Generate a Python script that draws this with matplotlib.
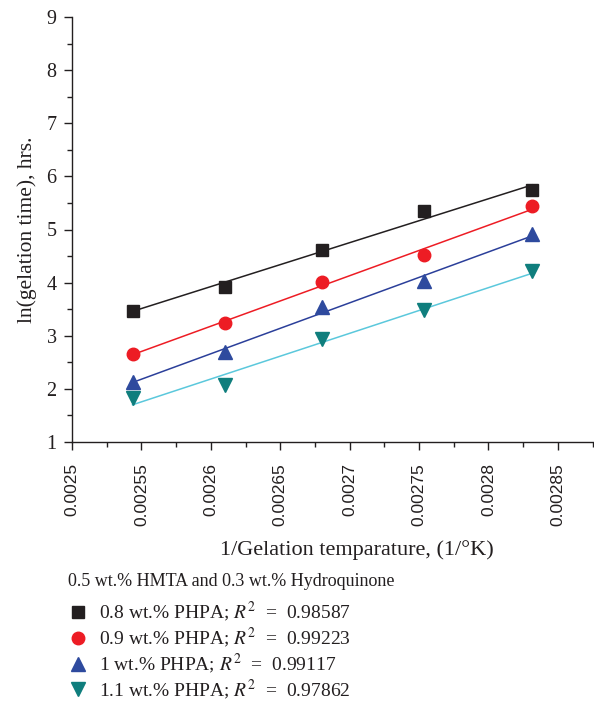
import numpy as np
import matplotlib
matplotlib.use("Agg")
import matplotlib.pyplot as plt
from matplotlib.lines import Line2D
from matplotlib.ticker import MultipleLocator

plt.rcParams['font.family'] = ['Liberation Serif', 'DejaVu Serif']
plt.rcParams['mathtext.fontset'] = 'stix'

inv_temp = [0.0025436, 0.0026100, 0.0026799, 0.0027537, 0.0028317]
series_labels = [
    "0.8 wt.% PHPA; $R^2$  =  0.98587",
    "0.9 wt.% PHPA; $R^2$  =  0.99223",
    "1 wt.% PHPA; $R^2$  =  0.99117",
    "1.1 wt.% PHPA; $R^2$  =  0.97862",
]
ln_gel_08 = [3.47, 3.92, 4.62, 5.34, 5.74]
ln_gel_09 = [2.66, 3.24, 4.02, 4.52, 5.44]
ln_gel_10 = [2.13, 2.70, 3.54, 4.04, 4.91]
ln_gel_11 = [1.83, 2.07, 2.93, 3.49, 4.21]
legend_title = "0.5 wt.% HMTA and 0.3 wt.% Hydroquinone"

series = [ln_gel_08, ln_gel_09, ln_gel_10, ln_gel_11]
markers = ['s', 'o', '^', 'v']
mcolors = ['#231f20', '#ed1c24', '#2e4a9e', '#0f7e7d']
lcolors = ['#231f20', '#ed1c24', '#2b3f9a', '#5bc8dc']
msizes = [8, 9, 10, 10]

fig = plt.figure(figsize=(5.94, 7.03), dpi=100)
ax = fig.add_axes([72/594, 1-442/703, 1-72/594, (442-17)/703])

x = np.array(inv_temp)
handles = []
for ys, m, mc, lc, ms, lab in zip(series, markers, mcolors, lcolors, msizes, series_labels):
    y = np.array(ys)
    k, b = np.polyfit(x, y, 1)
    xx = np.array([x.min(), x.max()])
    ax.plot(xx, k*xx + b, color=lc, lw=1.1, zorder=2)
    ax.plot(x, y, linestyle='none', marker=m, color=mc, markersize=ms, zorder=3)
    handles.append(Line2D([], [], linestyle='none', marker=m, color=mc, markersize=ms, label=lab))

ax.set_xlim(0.0025, 0.002876)
ax.set_ylim(1, 9)
ax.xaxis.set_major_locator(MultipleLocator(0.00005))
ax.xaxis.set_minor_locator(MultipleLocator(0.000025))
ax.yaxis.set_major_locator(MultipleLocator(1))
ax.yaxis.set_minor_locator(MultipleLocator(0.5))
ax.spines['top'].set_visible(False)
ax.spines['right'].set_visible(False)
for s in ['left', 'bottom']:
    ax.spines[s].set_color('#231f20')
    ax.spines[s].set_linewidth(1.0)
ax.tick_params(which='major', direction='out', length=6, width=1, color='#231f20')
ax.tick_params(which='minor', direction='out', length=3.5, width=1, color='#231f20')
ax.tick_params(axis='y', labelsize=14.5, labelcolor='#231f20', pad=5)
ax.tick_params(axis='x', labelsize=12.5, labelcolor='#231f20', pad=9)

xt = [0.0025, 0.00255, 0.0026, 0.00265, 0.0027, 0.00275, 0.0028, 0.00285]
xtl = ["0.0025", "0.00255", "0.0026", "0.00265", "0.0027", "0.00275", "0.0028", "0.00285"]
ax.set_xticks(xt)
ax.set_xticklabels(xtl, rotation=90, family=['Liberation Sans', 'DejaVu Sans'])
ax.set_yticks(range(1, 10))

ax.set_ylabel("ln(gelation time), hrs.", fontsize=15.5, color='#231f20', labelpad=7)
fig.text(357/594, 1-550/703, "1/Gelation temparature, (1/°K)", fontsize=16,
         ha='center', va='center', color='#231f20')

fig.text(68/594, 1-581/703, legend_title, fontsize=13, ha='left', va='center',
         color='#231f20')
leg = fig.legend(handles=handles, loc='upper left',
                 bbox_to_anchor=(55/594, 1-586/703), frameon=False,
                 fontsize=14, handlelength=1.0, handletextpad=0.55,
                 labelspacing=0.09, borderpad=0.2)
for t in leg.get_texts():
    t.set_color('#231f20')

fig.savefig("out.png", dpi=100)
